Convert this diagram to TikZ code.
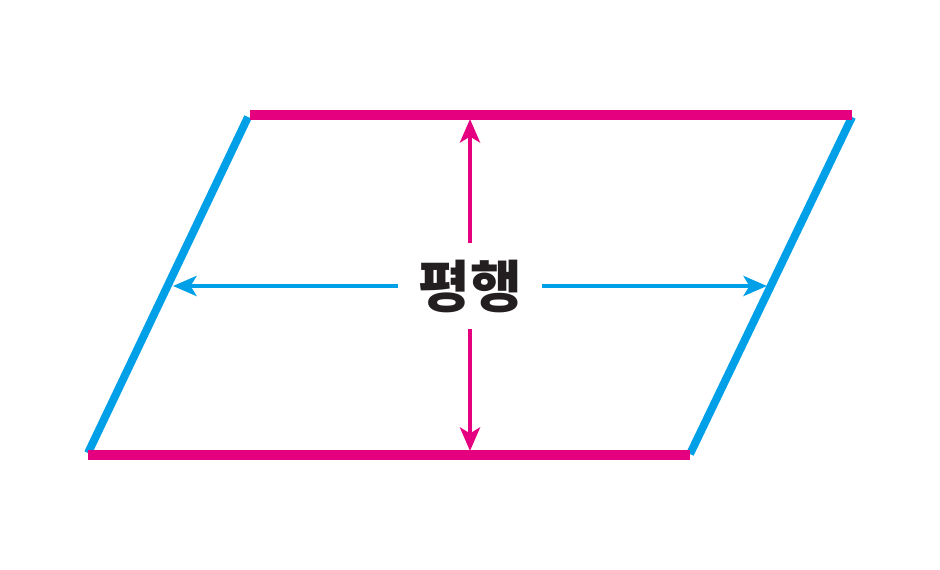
\documentclass[tikz,border=0pt]{standalone}
\usepackage{fontspec}
\newfontfamily\kofont{Noto Sans CJK KR}
\usetikzlibrary{arrows.meta}
\definecolor{pink}{HTML}{E4007F}
\definecolor{sky}{HTML}{00A0E9}
\definecolor{ink}{HTML}{231F20}
\begin{document}
\begin{tikzpicture}[
  x=0.03cm, y=-0.03cm,
  pinkedge/.style={draw=pink, line width=8.5pt},
  blueedge/.style={draw=sky, line width=6.8pt},
  pinkarrow/.style={draw=pink, line width=4.2pt, -{Stealth[length=20pt,width=17pt,inset=5pt]}},
  bluearrow/.style={draw=sky, line width=4.2pt, -{Stealth[length=20pt,width=17pt,inset=5pt]}},
  wordbox/.style={inner sep=0pt, outer sep=0pt, minimum width=4.32cm, minimum height=2.58cm,
    font=\kofont\bfseries\fontsize{48pt}{52pt}\selectfont, text=ink}
]
  \useasboundingbox (0,0) rectangle (940,570);
  % corners of the parallelogram
  \coordinate (bl) at (88,455);
  \coordinate (br) at (690,455);
  \coordinate (tr) at (852,115);
  \coordinate (tl) at (250,115);
  \coordinate (blb) at (88,453);
  \coordinate (tlb) at (248,117);
  \coordinate (brb) at (690,454);
  \coordinate (trb) at (852,117);
  % arrow tips
  \coordinate (up) at (470,119);
  \coordinate (down) at (470,451);
  \coordinate (left) at (173,286);
  \coordinate (right) at (767,286);
  % sides
  \draw[blueedge] (blb) -- (tlb);
  \draw[blueedge] (brb) -- (trb);
  \draw[pinkedge] (bl) -- (br);
  \draw[pinkedge] (tl) -- (tr);
  % centre word and arrows
  \node[wordbox] (word) at (470,286) {\raisebox{0.12cm}{평행}};
  \draw[pinkarrow] (word.north) -- (up);
  \draw[pinkarrow] (word.south) -- (down);
  \draw[bluearrow] (word.west) -- (left);
  \draw[bluearrow] (word.east) -- (right);
\end{tikzpicture}
\end{document}
